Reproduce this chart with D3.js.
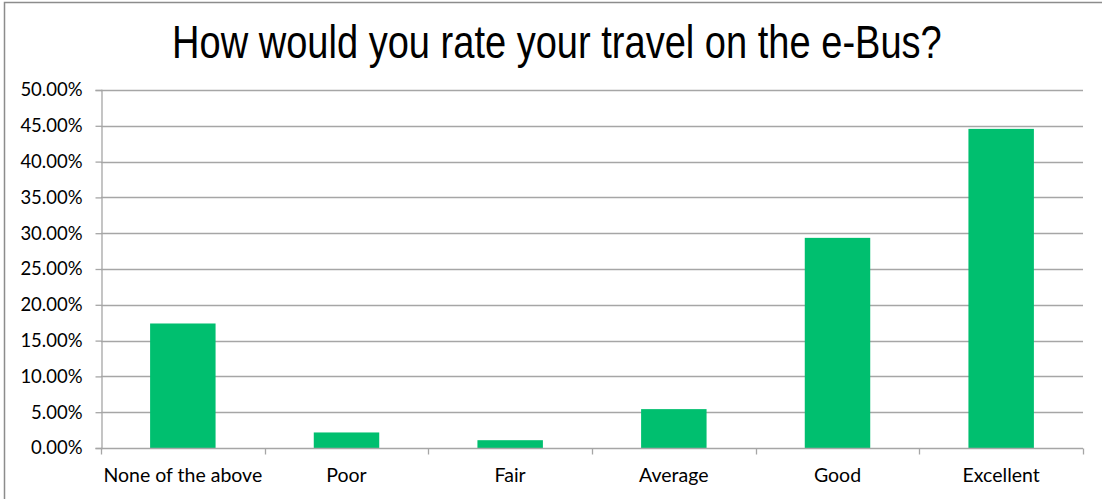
<!DOCTYPE html>
<html><head><meta charset="utf-8">
<script src="https://cdn.jsdelivr.net/npm/d3@7"></script>
<style>body{margin:0;background:#fff}svg{display:block}</style>
</head><body><svg id="c" width="1102" height="499"></svg>
<script>
const categories = ["None of the above","Poor","Fair","Average","Good","Excellent"];
const values = [0.1739,0.0217,0.0109,0.0543,0.2935,0.4457];
const yTicks = [0,0.05,0.10,0.15,0.20,0.25,0.30,0.35,0.40,0.45,0.50];
const title = "How would you rate your travel on the e-Bus?";

const svg = d3.select("#c");
const W = 1102, H = 499;
const m = {left:101, right:1083, top:90, bottom:448};

svg.append("rect").attr("x",4.5).attr("y",2.5).attr("width",W+10).attr("height",H+10)
  .attr("fill","#fff").attr("stroke","#8c8c8c").attr("stroke-width",1.5);

const x = d3.scaleBand().domain(categories).range([m.left,m.right]).paddingInner(0.6).paddingOuter(0.3);
const y = d3.scaleLinear().domain([0,0.5]).range([m.bottom,m.top]);

// gridlines
svg.append("g").selectAll("line").data(yTicks.slice(1)).join("line")
  .attr("x1",m.left).attr("x2",m.right)
  .attr("y1",d=>Math.round(y(d))+0.5).attr("y2",d=>Math.round(y(d))+0.5)
  .attr("stroke","#a6a6a6").attr("stroke-width",1.3);

// y axis
const ya = svg.append("g").attr("transform",`translate(${m.left+0.5},0)`)
  .call(d3.axisLeft(y).tickValues(yTicks).tickFormat(d3.format(".2%")).tickSize(6).tickPadding(13));
ya.select(".domain").attr("stroke","#a6a6a6").attr("stroke-width",1.3);
ya.selectAll(".tick line").attr("stroke","#a6a6a6").attr("stroke-width",1.3);
ya.selectAll("text").attr("font-family","Lato, 'Open Sans', sans-serif").attr("font-size",18.5).attr("fill","#000");

// bars
svg.append("g").selectAll("rect").data(values).join("rect")
  .attr("x",(d,i)=>x(categories[i])).attr("width",x.bandwidth())
  .attr("y",d=>y(d)).attr("height",d=>y(0)-y(d)).attr("fill","#00bf6f");

// x axis
const xb = d3.scaleLinear().domain([0,categories.length]).range([m.left,m.right]);
const xa = svg.append("g").attr("transform",`translate(0,${m.bottom+0.5})`);
xa.append("line").attr("x1",m.left).attr("x2",m.right).attr("stroke","#a6a6a6").attr("stroke-width",1.3);
xa.selectAll("line.t").data(d3.range(categories.length+1)).join("line").attr("class","t")
  .attr("x1",d=>Math.round(xb(d))+0.5).attr("x2",d=>Math.round(xb(d))+0.5).attr("y1",0).attr("y2",6)
  .attr("stroke","#a6a6a6").attr("stroke-width",1.3);
xa.selectAll("text").data(categories).join("text")
  .attr("x",d=>x(d)+x.bandwidth()/2).attr("y",33.5)
  .attr("text-anchor","middle").attr("font-family","Lato, 'Open Sans', sans-serif").attr("font-size",19.5).attr("fill","#000")
  .text(d=>d);

const t = svg.append("text")
  .attr("font-family","'Liberation Sans', Arial, sans-serif").attr("font-size",47).attr("fill","#000")
  .text(title);
const natural = t.node().getComputedTextLength();
const sx = 770 / natural;
t.attr("transform",`translate(172,58) scale(${sx},1)`);
</script></body></html>
